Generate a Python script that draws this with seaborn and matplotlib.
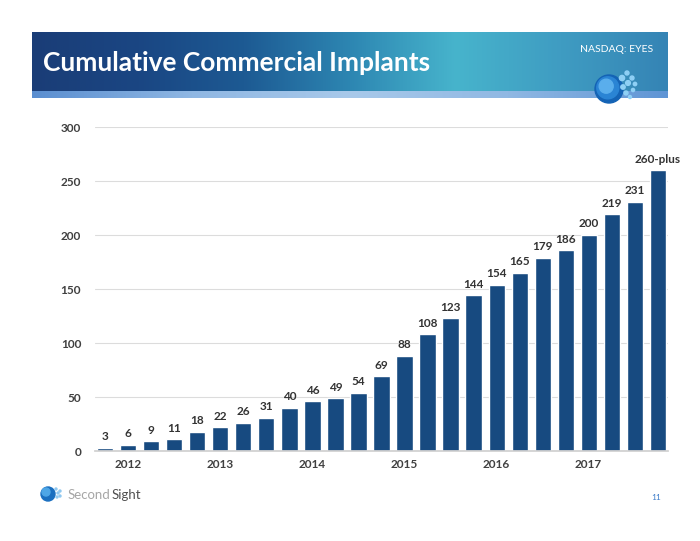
import numpy as np
import pandas as pd
import matplotlib.pyplot as plt
import seaborn as sns
from matplotlib.colors import LinearSegmentedColormap
from matplotlib.patches import Circle

# cumulative implants per quarter
implants = [3, 6, 9, 11, 18, 22, 26, 31, 40, 46, 49, 54, 69, 88, 108,
            123, 144, 154, 165, 179, 186, 200, 219, 231, 260]
bar_text = [str(v) for v in implants[:-1]] + ["260-plus"]
years = ["2012", "2013", "2014", "2015", "2016", "2017"]
year_bar = [1, 5, 9, 13, 17, 21]

df = pd.DataFrame({"quarter": range(len(implants)), "implants": implants})

sns.set_theme(style="white")
plt.rcParams["font.family"] = ["Lato", "DejaVu Sans"]

W, H = 700, 541
fig = plt.figure(figsize=(7, 5.41), dpi=100)

# slide decoration layer in pixel coords
deco = fig.add_axes([0, 0, 1, 1])
deco.set_xlim(0, W)
deco.set_ylim(H, 0)
deco.axis("off")

band = LinearSegmentedColormap.from_list(
    "band", ["#1a3d77", "#1a4683", "#1d5a93", "#2d86b2", "#47b4cc", "#3f9cc2", "#3584b5"])
deco.imshow(np.linspace(0, 1, 256)[None, :], cmap=band, aspect="auto",
            extent=(32, 668, 91, 32), zorder=1)
strip = LinearSegmentedColormap.from_list(
    "strip", ["#5a8ed0", "#8fb7e3", "#a8c9ea", "#90b8e3", "#5f95d5"])
deco.imshow(np.linspace(0, 1, 256)[None, :], cmap=strip, aspect="auto",
            extent=(32, 668, 98, 91), zorder=1)

deco.text(43, 71, "Cumulative Commercial Implants", color="white",
          fontsize=19, fontweight="bold", va="baseline", zorder=3)
deco.text(653, 50, "NASDAQ: EYES", color="white", fontsize=7.5,
          ha="right", va="center", zorder=3)

# globe logo in the banner
for r, c in [(14, "#1463b5"), (11, "#2a84d4"), (7, "#5aaeec")]:
    deco.add_patch(Circle((609 - (14 - r) * 0.4, 89 - (14 - r) * 0.4), r,
                          color=c, zorder=4))
for (dx, dy, r) in [(18, -16, 2.0), (23, -11, 2.0), (26, -5, 1.7), (19, -6, 2.4),
                    (24, 1, 1.6), (17, 4, 2.0), (13, -11, 2.6), (21, 8, 1.5),
                    (14, -2, 2.2)]:
    deco.add_patch(Circle((609 + dx, 89 + dy), r, color="#8fd0f5", zorder=4))

# footer logo
deco.add_patch(Circle((48, 494), 7, color="#1a6fc0", zorder=4))
deco.add_patch(Circle((46, 492), 4, color="#4ea6e6", zorder=4))
for (dx, dy) in [(8, -5), (10, -1), (9, 3), (12, -3), (12, 2)]:
    deco.add_patch(Circle((48 + dx, 494 + dy), 1.0, color="#8fc8f0", zorder=4))
t1 = deco.text(68, 495, "Second", color="#a6a6a6", fontsize=9.5, va="center", zorder=4)
fig.canvas.draw()
bb = t1.get_window_extent()
deco.text(bb.x1 + 1, 495, "Sight", color="#505050", fontsize=9.5, va="center",
          zorder=4)
deco.text(656, 498, "11", color="#3d7cc9", fontsize=6, ha="center", va="center")

# chart
ax = fig.add_axes([95 / W, (H - 451) / H, (668 - 95) / W, (451 - 127) / H])
ax.patch.set_alpha(0)
sns.barplot(data=df, x="quarter", y="implants", color="#174a80",
            saturation=1, width=0.7, ax=ax)
ax.bar_label(ax.containers[0], labels=bar_text, padding=4, fontsize=8.5,
             fontweight="bold", color="#333333")

ax.set_ylim(0, 300)
ax.set_xlim(-0.45, 24.45)
ax.set_yticks([0, 50, 100, 150, 200, 250, 300])
ax.set_xticks(year_bar)
ax.set_xticklabels(years)
ax.tick_params(axis="both", length=0, labelsize=8.5, labelcolor="#404040")
ax.tick_params(axis="y", pad=10)
ax.tick_params(axis="x", pad=6)
for lab in ax.get_xticklabels() + ax.get_yticklabels():
    lab.set_fontweight("bold")
ax.yaxis.grid(True, color="#dcdcdc", linewidth=0.8)
ax.set_axisbelow(True)
for s in ["top", "right", "left"]:
    ax.spines[s].set_visible(False)
ax.spines["bottom"].set_color("#d0d0d0")
ax.set_xlabel("")
ax.set_ylabel("")

fig.savefig("out.png", dpi=100)
